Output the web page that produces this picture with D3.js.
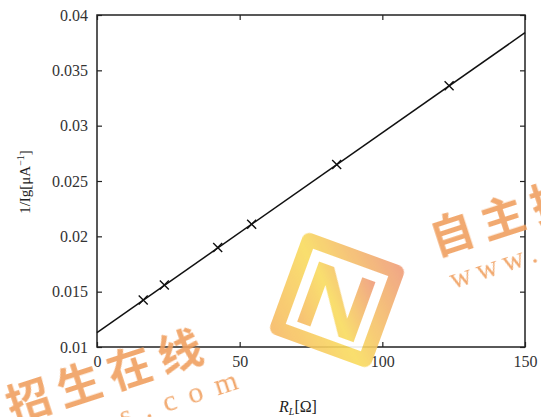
<!DOCTYPE html>
<html>
<head>
<meta charset="utf-8">
<script src="https://cdn.jsdelivr.net/npm/d3@7"></script>
<style>
  body { margin: 0; background: #fff; }
  svg { display: block; }
</style>
</head>
<body>
<div id="chart-area"></div>
<script>
// measured points
const rL = [16.2, 23.6, 42.3, 54.2, 84.0, 123.4]
const invIg = [0.01425, 0.0156, 0.0190, 0.0211, 0.0265, 0.0336]
// fitted line ends
const fitX = [0, 150]
const fitY = [0.0113, 0.0384]
const xTicks = [0, 50, 100, 150]
const yTicks = [0.01, 0.015, 0.02, 0.025, 0.03, 0.035, 0.04]

const SERIF = "'Liberation Serif', 'Times New Roman', serif"
const W = 541, H = 417
const MARGIN = { LEFT: 97, RIGHT: 16, TOP: 15, BOTTOM: 70 }
const WIDTH = W - MARGIN.LEFT - MARGIN.RIGHT
const HEIGHT = H - MARGIN.TOP - MARGIN.BOTTOM

const svg = d3.select("#chart-area").append("svg")
  .attr("width", W)
  .attr("height", H)

svg.append("rect").attr("width", W).attr("height", H).attr("fill", "#fff")

const g = svg.append("g")
  .attr("transform", `translate(${MARGIN.LEFT}, ${MARGIN.TOP})`)

const x = d3.scaleLinear().domain([0, 150]).range([0, WIDTH])
const y = d3.scaleLinear().domain([0.01, 0.04]).range([HEIGHT, 0])

// axes (ticks inward, all four sides)
const fmt = d => String(+d.toFixed(3))
g.append("g")
  .attr("transform", `translate(0, ${HEIGHT})`)
  .call(d3.axisBottom(x).tickValues(xTicks).tickSizeInner(-5).tickSizeOuter(0).tickPadding(9))
g.append("g")
  .call(d3.axisTop(x).tickValues(xTicks).tickSizeInner(-5).tickSizeOuter(0).tickFormat(""))
g.append("g")
  .call(d3.axisLeft(y).tickValues(yTicks).tickSizeInner(-5).tickSizeOuter(0).tickPadding(9).tickFormat(fmt))
g.append("g")
  .attr("transform", `translate(${WIDTH}, 0)`)
  .call(d3.axisRight(y).tickValues(yTicks).tickSizeInner(-5).tickSizeOuter(0).tickFormat(""))

g.selectAll(".domain").remove()
g.selectAll(".tick line").attr("stroke", "#222").attr("stroke-width", 1.2)
g.selectAll(".tick text")
  .attr("font-family", SERIF)
  .attr("font-size", "16px")
  .attr("fill", "#333")

g.append("rect")
  .attr("width", WIDTH).attr("height", HEIGHT)
  .attr("fill", "none").attr("stroke", "#222").attr("stroke-width", 1.5)

// fit line
g.append("path")
  .datum(fitX.map((d, i) => [d, fitY[i]]))
  .attr("fill", "none").attr("stroke", "#111").attr("stroke-width", 1.5)
  .attr("d", d3.line().x(d => x(d[0])).y(d => y(d[1])))

// markers
const s = 4.5
g.selectAll(".pt")
  .data(rL.map((d, i) => ({ r: d, v: invIg[i] })))
  .enter().append("path")
  .attr("class", "pt")
  .attr("transform", d => `translate(${x(d.r)}, ${y(d.v)})`)
  .attr("d", `M${-s},${-s}L${s},${s}M${-s},${s}L${s},${-s}`)
  .attr("stroke", "#111").attr("stroke-width", 1.4)

// labels
const yLabel = svg.append("text")
  .attr("transform", "translate(30, 182) rotate(-90)")
  .attr("text-anchor", "middle")
  .attr("font-family", SERIF)
  .attr("font-size", "15px")
  .attr("fill", "#222")
yLabel.append("tspan").text("1/Ig[μA")
yLabel.append("tspan").attr("dy", -6).attr("font-size", "10px").text("−1")
yLabel.append("tspan").attr("dy", 6).text("]")

const xLabel = svg.append("text")
  .attr("x", 298).attr("y", 412)
  .attr("text-anchor", "middle")
  .attr("font-family", SERIF)
  .attr("font-size", "16px")
  .attr("fill", "#222")
xLabel.append("tspan").attr("font-style", "italic").text("R")
xLabel.append("tspan").attr("font-size", "10px").attr("dy", 3).attr("font-style", "italic").text("L")
xLabel.append("tspan").attr("dy", -3).text("[Ω]")

// watermark
const wm = svg.append("g").attr("opacity", 0.9)
const defs = svg.append("defs")
const grad = defs.append("linearGradient").attr("id", "lg")
  .attr("x1", "0%").attr("y1", "100%").attr("x2", "100%").attr("y2", "0%")
grad.append("stop").attr("offset", "0%").attr("stop-color", "#f7b866")
grad.append("stop").attr("offset", "45%").attr("stop-color", "#f9dc5e")
grad.append("stop").attr("offset", "100%").attr("stop-color", "#ef9a7a")

const logo = wm.append("g").attr("transform", "translate(337, 300) rotate(20)")
logo.append("rect").attr("x", -54).attr("y", -54).attr("width", 108).attr("height", 108)
  .attr("rx", 8).attr("fill", "url(#lg)")
logo.append("rect").attr("x", -40).attr("y", -40).attr("width", 80).attr("height", 80)
  .attr("fill", "#fff")
logo.append("path")
  .attr("d", "M-30,34V-30H-14L16,14V-30H30V34H14L-16,-10V34Z")
  .attr("fill", "url(#lg)")

const drawMark = (tx, ty) => {
  const t = wm.append("g").attr("transform", `translate(${tx}, ${ty}) rotate(-18)`)
  t.append("text")
    .attr("font-family", "Noto Sans CJK SC, sans-serif")
    .attr("font-weight", "bold")
    .attr("font-size", "44px")
    .attr("letter-spacing", "9px")
    .attr("fill", "#f0a060")
    .text("自主招生在线")
  const u = t.append("text")
    .attr("x", 6).attr("y", 37)
    .attr("font-family", SERIF)
    .attr("font-size", "30px")
    .attr("fill", "#f0a060")
  u.append("tspan").attr("letter-spacing", "6px").text("www")
  u.append("tspan").attr("letter-spacing", "13px").text(".zizzs.com")
}
drawMark(-88, 456)
drawMark(436, 256)
</script>
</body>
</html>
